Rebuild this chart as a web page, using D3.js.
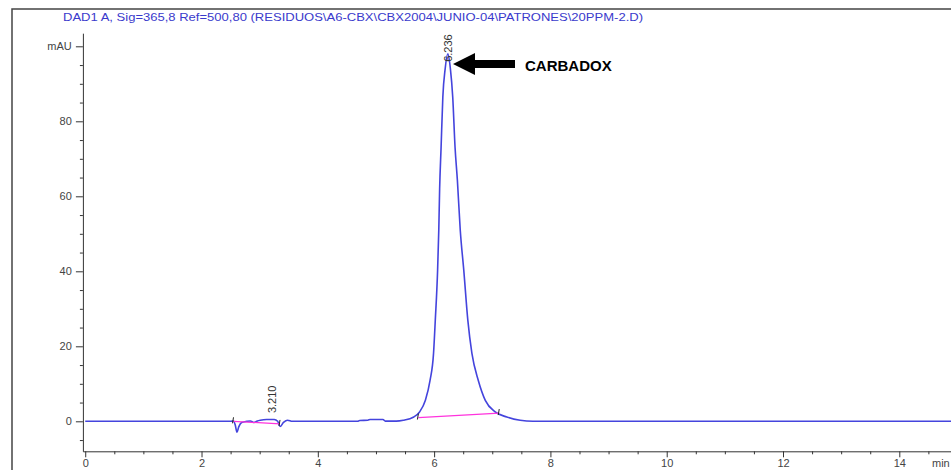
<!DOCTYPE html>
<html>
<head>
<meta charset="utf-8">
<script src="https://cdn.jsdelivr.net/npm/d3@7"></script>
<style>
  body { margin: 0; background: #fff; }
  text { font-family: Arial, "Liberation Sans", sans-serif; }
</style>
</head>
<body>
<div id="chromatogram"></div>
<script>
// Signal trace (min, mAU)
const retTime = [0, 2.50, 2.55, 2.58, 2.61, 2.64, 2.69, 2.78, 2.84, 2.90, 2.96, 3.01, 3.12, 3.25, 3.31, 3.35, 3.41, 3.48, 3.56,
  4.68, 4.72, 4.86, 4.90, 5.12, 5.16, 5.35, 5.47, 5.65, 5.75, 5.85, 5.93, 5.99, 6.02, 6.06, 6.08, 6.095, 6.12, 6.15, 6.19,
  6.236, 6.28, 6.32, 6.36, 6.40, 6.45, 6.51, 6.58, 6.65, 6.76, 6.88, 7.05, 7.25, 7.48, 7.70, 15.5]
const absorbance = [0, 0, 0.1, -1.0, -2.9, -1.5, -0.3, 0, 0.1, -0.3, 0.1, 0.3, 0.5, 0.5, 0.0, -1.4, -0.3, 0.3, 0,
  0, 0.2, 0.3, 0.5, 0.5, 0.05, 0.05, 0.27, 1.15, 2.5, 5.6, 10.9, 18.1, 26.9, 40.3, 50.9, 62, 73.1, 86.5, 94,
  98, 94, 86.5, 73.1, 64.3, 50.9, 40.3, 26.9, 18.1, 10.9, 5.6, 2.5, 1.15, 0.27, 0, 0]

// Integration baselines: [start time, start mAU, end time, end mAU]
const baseLines = [[2.55, 0.0, 3.35, -0.7], [5.73, 1.0, 7.12, 2.2]]
const peakTimes = [3.210, 6.236]
const peakLabels = ["3.210", "6.236"]

const xTicks = [0, 2, 4, 6, 8, 10, 12, 14]
const yTicks = [0, 20, 40, 60, 80, 100]
const yTickLabels = ["0", "20", "40", "60", "80", "mAU"]

const title = "DAD1 A, Sig=365,8 Ref=500,80 (RESIDUOS\\A6-CBX\\CBX2004\\JUNIO-04\\PATRONES\\20PPM-2.D)"

const width = 951
const height = 470
const traceColour = "#4444dd"
const axisColour = "#333"

const svg = d3.select("#chromatogram")
  .append("svg")
  .attr("width", width)
  .attr("height", height)

// Frame of the printout
svg.append("rect")
  .attr("x", 12)
  .attr("y", 9)
  .attr("width", 1000)
  .attr("height", 500)
  .attr("fill", "none")
  .attr("stroke", "#444")
  .attr("stroke-width", 1.5)

svg.append("text")
  .attr("x", 63)
  .attr("y", 21)
  .attr("textLength", 580)
  .attr("lengthAdjust", "spacingAndGlyphs")
  .attr("fill", "#3a3acc")
  .style("font-size", "11px")
  .text(title)

// Scales
const x = d3.scaleLinear()
  .domain([-0.04, 15.5])
  .range([82.9, 85.2 + 58.15 * 15.5])

const y = d3.scaleLinear()
  .domain([-8, 103.5])
  .range([451.3, 421.3 - 3.75 * 103.5])

// X axis
const xAxis = svg.append("g")
  .attr("transform", "translate(0," + y(-8) + ")")
  .call(d3.axisBottom(x).tickValues(xTicks).tickSize(6).tickSizeOuter(0).tickFormat(d3.format("d")))
xAxis.append("g")
  .call(d3.axisBottom(x).tickValues(d3.range(0.5, 15.5, 1).concat(d3.range(1, 15.5, 2))).tickSize(3).tickFormat(""))
  .select(".domain").remove()

// Y axis
const yAxis = svg.append("g")
  .attr("transform", "translate(" + x(-0.04) + ",0)")
  .call(d3.axisLeft(y).tickValues(yTicks).tickSize(7).tickSizeOuter(0).tickFormat((d, i) => yTickLabels[i]))
yAxis.append("g")
  .call(d3.axisLeft(y).tickValues(d3.range(-5, 100, 5).filter(d => d % 20 !== 0)).tickSize(3).tickFormat(""))
  .select(".domain").remove()

svg.selectAll(".domain, .tick line")
  .attr("stroke", axisColour)
svg.selectAll(".tick text")
  .attr("fill", "#444")
  .style("font-size", "11px")
  .style("font-family", "Arial, 'Liberation Sans', sans-serif")
xAxis.selectAll(".tick text").attr("dy", "0.6em")
yAxis.selectAll(".tick text").attr("dx", "-0.1em")

svg.append("text")
  .attr("x", 932)
  .attr("y", 467)
  .attr("fill", "#444")
  .style("font-size", "11px")
  .text("min")

// Signal
const points = retTime.map((t, i) => [t, absorbance[i]])
const line = d3.line()
  .x(d => x(d[0]))
  .y(d => y(d[1]))
  .curve(d3.curveMonotoneX)

svg.append("path")
  .datum(points)
  .attr("d", line)
  .attr("fill", "none")
  .attr("stroke", traceColour)
  .attr("stroke-width", 1.6)

// Integration baselines + markers
svg.selectAll("line.base")
  .data(baseLines)
  .enter()
  .append("line")
  .attr("class", "base")
  .attr("x1", d => x(d[0]))
  .attr("y1", d => y(d[1]))
  .attr("x2", d => x(d[2]))
  .attr("y2", d => y(d[3]))
  .attr("stroke", "#ff33dd")
  .attr("stroke-width", 1.3)

const markers = baseLines.flatMap(d => [[d[0], d[1]], [d[2], d[3]]])
svg.selectAll("line.marker")
  .data(markers)
  .enter()
  .append("line")
  .attr("class", "marker")
  .attr("x1", d => x(d[0]))
  .attr("x2", d => x(d[0]) - 1)
  .attr("y1", d => y(d[1]) - 4)
  .attr("y2", d => y(d[1]) + 2)
  .attr("stroke", "#222")
  .attr("stroke-width", 1)

// Peak retention time labels
svg.selectAll("text.peak")
  .data(peakTimes)
  .enter()
  .append("text")
  .attr("class", "peak")
  .attr("transform", (d, i) => {
    const ty = i === 0 ? y(2.2) : y(98) + 8
    return "translate(" + (x(d) + 4) + "," + ty + ")rotate(-90)"
  })
  .attr("fill", "#333")
  .style("font-size", "11px")
  .text((d, i) => peakLabels[i])

// Arrow and compound name
const arrowY = 64
svg.append("path")
  .attr("d", d3.line()([[453, arrowY], [475, arrowY - 11], [475, arrowY - 4], [515, arrowY - 4],
    [515, arrowY + 4], [475, arrowY + 4], [475, arrowY + 11]]) + "Z")
  .attr("fill", "#000")

svg.append("text")
  .attr("x", 525)
  .attr("y", 71)
  .attr("fill", "#000")
  .style("font-size", "15px")
  .style("font-weight", "bold")
  .text("CARBADOX")
</script>
</body>
</html>
